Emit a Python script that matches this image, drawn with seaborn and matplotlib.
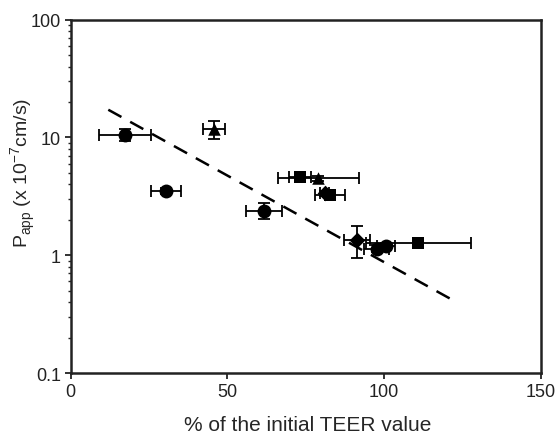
import numpy as np
import pandas as pd
import matplotlib
matplotlib.use("Agg")
import matplotlib.pyplot as plt
import seaborn as sns
from matplotlib.ticker import FixedLocator, FormatStrFormatter, LogLocator, NullFormatter

# ---- data ----
circle_x = [17.3, 30.4, 61.7, 97.7, 100.6]
circle_y = [10.5, 3.5, 2.39, 1.14, 1.19]
circle_xerr = [8.2, 4.8, 5.8, 4.0, 3.0]
circle_yerr = [1.2, 0.2, 0.37, 0.08, 0.08]

tri_x = [45.8, 79.0]
tri_y = [11.8, 4.5]
tri_xerr = [3.6, 13.0]
tri_yerr = [2.0, 0.2]

sq_x = [73.2, 82.8, 110.9]
sq_y = [4.64, 3.24, 1.26]
sq_xerr = [3.5, 4.7, 16.8]
sq_yerr = [0.2, 0.15, 0.06]

dia_x = [81.0, 91.3]
dia_y = [3.35, 1.35]
dia_xerr = [1.5, 4.1]
dia_yerr = [0.15, 0.41]

fit_x = [12.0, 121.3]
fit_y = [17.2, 0.425]

x_ticks = [0, 50, 100, 150]
y_ticks = [0.1, 1, 10, 100]

sns.set_style("ticks")
plt.rcParams['font.family'] = ['Liberation Sans', 'DejaVu Sans']
plt.rcParams['mathtext.fontset'] = 'custom'
plt.rcParams['mathtext.rm'] = 'Liberation Sans'

fig = plt.figure(figsize=(5.58, 4.35), dpi=100)
ax = fig.add_axes([0.1267, 0.1402, 0.9690 - 0.1267, 0.9524 - 0.1402])

groups = [
    (circle_x, circle_y, circle_xerr, circle_yerr, "o", 10),
    (tri_x, tri_y, tri_xerr, tri_yerr, "^", 9),
    (sq_x, sq_y, sq_xerr, sq_yerr, "s", 8.5),
    (dia_x, dia_y, dia_xerr, dia_yerr, "D", 8),
]

sns.lineplot(x=fit_x, y=fit_y, ax=ax, color="black", linewidth=1.8,
             linestyle=(0, (6, 4)), zorder=1)

for gx, gy, gxe, gye, mk, ms in groups:
    ax.errorbar(gx, gy, xerr=gxe, yerr=gye, fmt="none", ecolor="black",
                elinewidth=1.3, capsize=4, capthick=1.3, zorder=2)
    sns.scatterplot(x=gx, y=gy, ax=ax, marker=mk, s=ms ** 2, color="black",
                    edgecolor="black", linewidth=0, zorder=3)

ax.set_yscale("log")
ax.set_xlim(0, 150)
ax.set_ylim(0.1, 100)
ax.xaxis.set_major_locator(FixedLocator(x_ticks))
ax.yaxis.set_major_locator(FixedLocator(y_ticks))
ax.yaxis.set_major_formatter(FormatStrFormatter("%g"))
ax.yaxis.set_minor_locator(LogLocator(base=10, subs=np.arange(2, 10)))
ax.yaxis.set_minor_formatter(NullFormatter())

for s in ax.spines.values():
    s.set_visible(True)
    s.set_linewidth(1.8)
    s.set_color("#222222")

ax.tick_params(axis="both", which="major", direction="out", length=4, width=1.3,
               labelsize=13, colors="#222222", labelcolor="#222222", pad=3)
ax.tick_params(axis="y", which="minor", direction="out", length=2.5, width=1.0)

ax.set_xlabel("% of the initial TEER value", fontsize=15)
ax.xaxis.set_label_coords(0.504, -0.118)
ax.set_ylabel("P$_{\\mathregular{app}}$ (x 10$^{\\mathregular{-7}}$cm/s)", fontsize=14)
ax.yaxis.set_label_coords(-0.07, 0.57)

fig.savefig("out.png", dpi=100)
